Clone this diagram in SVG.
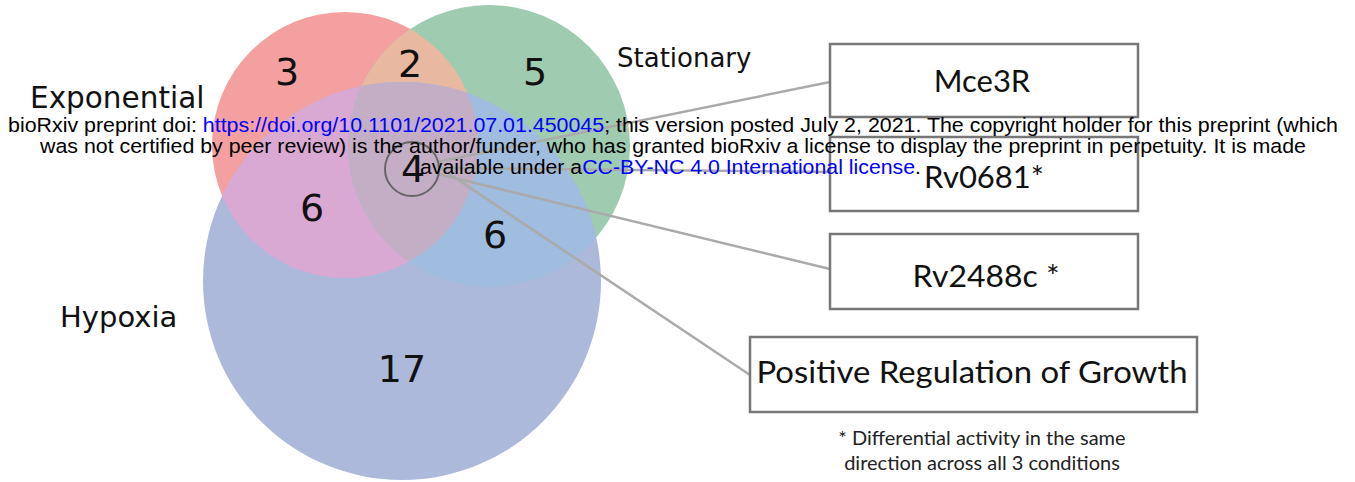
<svg xmlns="http://www.w3.org/2000/svg" width="1355" height="482" viewBox="0 0 1355 482">
<style>
.num{font-family:"DejaVu Sans",sans-serif;font-size:38px;fill:#111;text-anchor:middle}
.set{font-family:"DejaVu Sans",sans-serif;fill:#111}
.box{fill:#fff;stroke:#777;stroke-width:2.5}
.bt{font-family:Lato,"Open Sans",sans-serif;font-size:31px;fill:#111;text-anchor:middle}
.note{font-family:Lato,"Open Sans",sans-serif;font-size:20px;fill:#222;text-anchor:middle}
.conn{stroke:#aaa;stroke-width:2.5;fill:none}
.wm{font-family:"Liberation Sans",Arial,sans-serif;font-size:20.5px;fill:#000;text-anchor:middle}
.lk{fill:#0000ff}
</style>
<defs>
<clipPath id="cG"><circle cx="489" cy="146" r="141"/></clipPath>
<clipPath id="cB"><circle cx="402" cy="281" r="199"/></clipPath>
</defs>
<rect width="1355" height="482" fill="#fff"/>
<g id="venn">
<circle id="exponential" cx="345" cy="145" r="133" fill="#F5A0A0"/>
<circle id="stationary" cx="489" cy="146" r="141" fill="#9FCBB0"/>
<circle id="hypoxia" cx="402" cy="281" r="199" fill="#ACB9DB"/>
<circle cx="345" cy="145" r="133" fill="#E8B8A0" clip-path="url(#cG)"/>
<circle cx="345" cy="145" r="133" fill="#D9A9D4" clip-path="url(#cB)"/>
<circle cx="489" cy="146" r="141" fill="#A0BCDE" clip-path="url(#cB)"/>
<g clip-path="url(#cB)"><circle cx="345" cy="145" r="133" fill="#C4AEC6" clip-path="url(#cG)"/></g>
</g>
<g id="counts">
<text class="num" x="287" y="85">3</text>
<text class="num" x="410" y="77">2</text>
<text class="num" x="535" y="85">5</text>
<text class="num" x="312" y="221">6</text>
<text class="num" x="495" y="248">6</text>
<text class="num" x="413" y="182">4</text>
<text class="num" x="402" y="382">17</text>
</g>
<g id="set-labels">
<text class="set" x="30" y="108" font-size="29.5">Exponential</text>
<text class="set" x="617" y="67" font-size="26">Stationary</text>
<text class="set" x="60" y="327" font-size="29">Hypoxia</text>
</g>
<g id="connectors">
<line class="conn" x1="437" y1="162" x2="830" y2="82"/>
<line class="conn" x1="439" y1="168" x2="830" y2="172"/>
<line class="conn" x1="438" y1="174" x2="830" y2="269"/>
<line class="conn" x1="436" y1="165" x2="750" y2="375"/>
</g>
<g id="highlight">
<circle cx="412" cy="169" r="27" fill="none" stroke="#666" stroke-width="2"/>
</g>
<g id="node-mce3r">
<rect class="box" x="830" y="44" width="308" height="73"/>
<text class="bt" x="982" y="92">Mce3R</text>
</g>
<g id="node-rv0681">
<rect class="box" x="830" y="137" width="308" height="74"/>
<text class="bt" x="984" y="188">Rv0681*</text>
</g>
<g id="node-rv2488c">
<rect class="box" x="830" y="234" width="308" height="75"/>
<text class="bt" x="986" y="287" textLength="147" lengthAdjust="spacingAndGlyphs">Rv2488c *</text>
</g>
<g id="node-growth">
<rect class="box" x="750" y="337" width="447" height="75"/>
<text class="bt" x="972" y="383" font-size="32" textLength="431" lengthAdjust="spacingAndGlyphs">Positive Regulation of Growth</text>
</g>
<g id="footnote">
<text class="note" x="982" y="445">* Differential activity in the same</text>
<text class="note" x="982" y="470">direction across all 3 conditions</text>
</g>
<g id="watermark">
<text class="wm" x="673" y="132" textLength="1330" lengthAdjust="spacingAndGlyphs">bioRxiv preprint doi: <tspan class="lk">https://doi.org/10.1101/2021.07.01.450045</tspan>; this version posted July 2, 2021. The copyright holder for this preprint (which</text>
<text class="wm" x="673" y="153" textLength="1266" lengthAdjust="spacingAndGlyphs">was not certified by peer review) is the author/funder, who has granted bioRxiv a license to display the preprint in perpetuity. It is made</text>
<text class="wm" x="670.5" y="174" textLength="501" lengthAdjust="spacingAndGlyphs">available under a<tspan class="lk">CC-BY-NC 4.0 International license</tspan>.</text>
</g>
</svg>
